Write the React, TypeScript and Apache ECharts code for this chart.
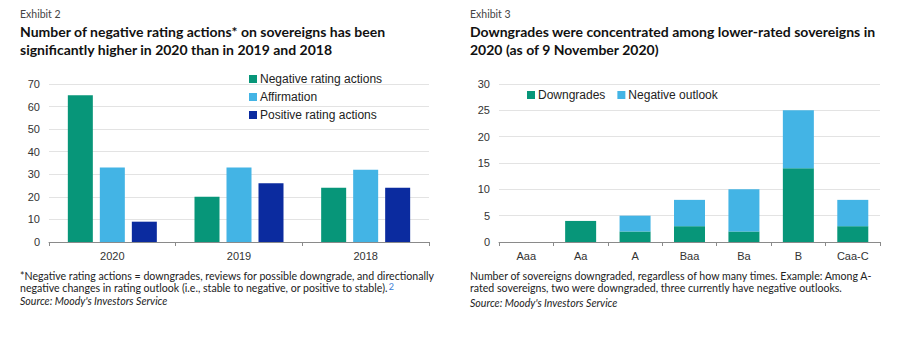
import React, { useEffect, useRef } from "react";
import * as echarts from "echarts";

const leftCategories = ["2020", "2019", "2018"];
const negativeActions = [65, 20, 24];
const affirmations = [33, 33, 32];
const positiveActions = [9, 26, 24];
const leftTicks = [0, 10, 20, 30, 40, 50, 60, 70];

const rightCategories = ["Aaa", "Aa", "A", "Baa", "Ba", "B", "Caa-C"];
const downgrades = [0, 4, 2, 3, 2, 14, 3];
const negativeOutlook = [0, 0, 3, 5, 8, 11, 5];
const rightTicks = [0, 5, 10, 15, 20, 25, 30];

const GREEN = "#079679";
const LIGHT = "#43b4e5";
const DARK = "#0b2b9f";
const FONT = "Lato";
const AXFONT = "Liberation Sans";

export default function App() {
  const ref = useRef<HTMLDivElement>(null);
  useEffect(() => {
    document.body.style.margin = "0";
    const chart = echarts.init(ref.current!, null, { renderer: "svg" });
    const axisLabel = { color: "#333", fontSize: 11, fontFamily: AXFONT };
    const catAxis = (idx: number, data: string[]) => ({
      type: "category",
      gridIndex: idx,
      data,
      axisLine: { lineStyle: { color: "#8a8a8a", width: 1 } },
      axisTick: { show: true, length: 4, lineStyle: { color: "#8a8a8a" } },
      axisLabel: { ...axisLabel, margin: 8 },
    });
    const valAxis = (idx: number, max: number, interval: number) => ({
      type: "value",
      gridIndex: idx,
      min: 0,
      max,
      interval,
      axisLine: { show: false },
      axisTick: { show: false },
      axisLabel: { ...axisLabel, margin: 9 },
      splitLine: { lineStyle: { color: "#e3e3e3", width: 1 } },
    });
    chart.setOption({
      animation: false,
      backgroundColor: "#ffffff",
      grid: [
        { left: 49, right: 477, top: 84, bottom: 112 },
        { left: 499, right: 26, top: 84, bottom: 112 },
      ],
      xAxis: [catAxis(0, leftCategories), catAxis(1, rightCategories)],
      yAxis: [
        valAxis(0, leftTicks[leftTicks.length - 1], leftTicks[1] - leftTicks[0]),
        valAxis(1, rightTicks[rightTicks.length - 1], rightTicks[1] - rightTicks[0]),
      ],
      legend: [
        {
          data: ["Negative rating actions", "Affirmation", "Positive rating actions"],
          orient: "vertical",
          left: 244,
          top: 68,
          itemWidth: 8,
          itemHeight: 8,
          itemGap: 6,
          icon: "rect",
          textStyle: { color: "#222", fontSize: 12, fontFamily: AXFONT, padding: [0, 0, 0, -2] },
        },
        {
          data: ["Downgrades", "Negative outlook"],
          orient: "horizontal",
          left: 522,
          top: 84,
          itemWidth: 8,
          itemHeight: 8,
          itemGap: 12,
          icon: "rect",
          textStyle: { color: "#222", fontSize: 12, fontFamily: AXFONT, padding: [0, 0, 0, -2] },
        },
      ],
      series: [
        {
          name: "Negative rating actions",
          type: "bar",
          xAxisIndex: 0,
          yAxisIndex: 0,
          data: negativeActions,
          itemStyle: { color: GREEN },
          barWidth: 25,
          barGap: "28%",
        },
        {
          name: "Affirmation",
          type: "bar",
          xAxisIndex: 0,
          yAxisIndex: 0,
          data: affirmations,
          itemStyle: { color: LIGHT },
          barWidth: 25,
          barGap: "28%",
        },
        {
          name: "Positive rating actions",
          type: "bar",
          xAxisIndex: 0,
          yAxisIndex: 0,
          data: positiveActions,
          itemStyle: { color: DARK },
          barWidth: 25,
          barGap: "28%",
        },
        {
          name: "Downgrades",
          type: "bar",
          stack: "r",
          xAxisIndex: 1,
          yAxisIndex: 1,
          data: downgrades,
          itemStyle: { color: GREEN },
          barWidth: 31,
        },
        {
          name: "Negative outlook",
          type: "bar",
          stack: "r",
          xAxisIndex: 1,
          yAxisIndex: 1,
          data: negativeOutlook,
          itemStyle: { color: LIGHT },
          barWidth: 31,
        },
      ],
      graphic: [
        { type: "text", left: 20, top: 8, style: { text: "Exhibit 2", fontSize: 10.5, fontFamily: FONT, fill: "#444" } },
        {
          type: "text",
          left: 20,
          top: 22,
          style: {
            text: "Number of negative rating actions* on sovereigns has been\nsignificantly higher in 2020 than in 2019 and 2018",
            fontSize: 14,
            lineHeight: 18,
            fontWeight: "bold",
            fontFamily: FONT,
            fill: "#111",
          },
        },
        { type: "text", left: 470, top: 8, style: { text: "Exhibit 3", fontSize: 10.5, fontFamily: FONT, fill: "#444" } },
        {
          type: "text",
          left: 470,
          top: 22,
          style: {
            text: "Downgrades were concentrated among lower-rated sovereigns in\n2020 (as of 9 November 2020)",
            fontSize: 14,
            lineHeight: 18,
            fontWeight: "bold",
            fontFamily: FONT,
            fill: "#111",
          },
        },
        {
          type: "text",
          left: 20,
          top: 270,
          style: {
            text: "{a|*Negative rating actions = downgrades, reviews for possible downgrade, and directionally}\n{a|negative changes in rating outlook (i.e., stable to negative, or positive to stable).}{s|2}\n{i|Source: Moody's Investors Service}",
            rich: {
              a: { fontSize: 10.6, lineHeight: 12.5, fontFamily: FONT, fill: "#222" },
              s: { fontSize: 9, lineHeight: 12.5, fontFamily: FONT, fill: "#3a7bd5", verticalAlign: "top", padding: [0, 0, 6, 1] },
              i: { fontSize: 10.6, lineHeight: 12.5, fontFamily: FONT, fontStyle: "italic", fill: "#222" },
            },
          },
        },
        {
          type: "text",
          left: 470,
          top: 270,
          style: {
            text: "{a|Number of sovereigns downgraded, regardless of how many times. Example: Among A-}\n{a|rated sovereigns, two were downgraded, three currently have negative outlooks.}\n{i|Source: Moody's Investors Service}",
            rich: {
              a: { fontSize: 10.6, lineHeight: 12.5, fontFamily: FONT, fill: "#222" },
              i: { fontSize: 10.6, lineHeight: 17, fontFamily: FONT, fontStyle: "italic", fill: "#222" },
            },
          },
        },
      ],
    });
    return () => chart.dispose();
  }, []);
  return <div ref={ref} style={{ width: 906, height: 354 }} />;
}
